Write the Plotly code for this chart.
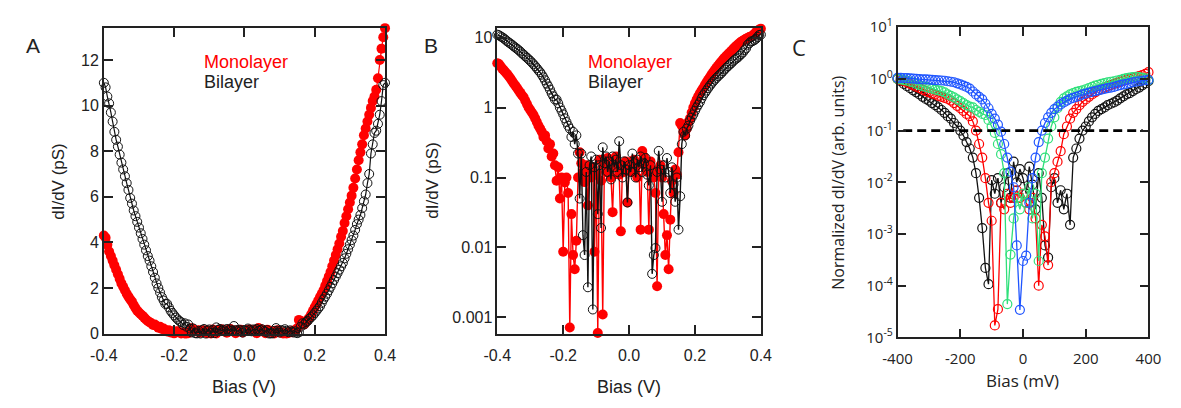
import plotly.graph_objects as go

# ---------------- data ----------------
# Panels A and B: bias in mV (converted to V), dI/dV in pS
bias_ab_mv = [-400, -395, -390, -385, -380, -375, -370, -365, -360, -355,
              -350, -345, -340, -335, -330, -325, -320, -315, -310, -305,
              -300, -295, -290, -285, -280, -275, -270, -265, -260, -255,
              -250, -245, -240, -235, -230, -225, -220, -215, -210, -205,
              -200, -195, -190, -185, -180, -175, -170, -165, -160, -155,
              -150, -145, -140, -135, -130, -125, -120, -115, -110, -105,
              -100, -95, -90, -85, -80, -75, -70, -65, -60, -55,
              -50, -45, -40, -35, -30, -25, -20, -15, -10, -5,
              0, 5, 10, 15, 20, 25, 30, 35, 40, 45,
              50, 55, 60, 65, 70, 75, 80, 85, 90, 95,
              100, 105, 110, 115, 120, 125, 130, 135, 140, 145,
              150, 155, 160, 165, 170, 175, 180, 185, 190, 195,
              200, 205, 210, 215, 220, 225, 230, 235, 240, 245,
              250, 255, 260, 265, 270, 275, 280, 285, 290, 295,
              300, 305, 310, 315, 320, 325, 330, 335, 340, 345,
              350, 355, 360, 365, 370, 375, 380, 385, 390, 395,
              400]

monolayer = [4.3, 4.2, 3.9, 3.6, 3.4, 3.2, 3.0, 2.8, 2.6, 2.4,
             2.2, 2.05, 1.9, 1.75, 1.62, 1.5, 1.4, 1.25, 1.12, 1.0,
             0.92, 0.85, 0.78, 0.7, 0.62, 0.55, 0.5, 0.45, 0.38, 0.4,
             0.33, 0.26, 0.3, 0.2, 0.22, 0.15, 0.09, 0.14, 0.05, 0.1,
             0.0087, 0.085, 0.1, 0.06, 0.00072, 0.03, 0.0078, 0.0049, 0.0125, 0.1,
             0.23, 0.16, 0.12, 0.086, 0.15, 0.04, 0.13, 0.1, 0.14, 0.0087,
             0.11, 0.0006, 0.18, 0.09, 0.0011, 0.15, 0.12, 0.19, 0.13, 0.1,
             0.032, 0.17, 0.2, 0.14, 0.11, 0.017, 0.15, 0.12, 0.17, 0.044,
             0.13, 0.16, 0.12, 0.18, 0.14, 0.1, 0.16, 0.018, 0.24, 0.2,
             0.15, 0.12, 0.018, 0.17, 0.13, 0.1, 0.06, 0.0028, 0.12, 0.15,
             0.1, 0.03, 0.0078, 0.015, 0.0049, 0.025, 0.09, 0.06, 0.13, 0.11,
             0.23, 0.6, 0.55, 0.45, 0.4, 0.5, 0.62, 0.7, 0.85, 1.0,
             1.15, 1.3, 1.45, 1.6, 1.75, 1.9, 2.1, 2.3, 2.5, 2.7,
             2.95, 3.2, 3.45, 3.7, 3.95, 4.25, 4.5, 4.85, 5.15, 5.45,
             5.75, 6.05, 6.4, 6.8, 7.2, 7.6, 7.95, 8.3, 8.7, 9.0,
             9.3, 9.6, 9.9, 10.2, 10.4, 10.7, 11.2, 12.0, 12.5, 13.0,
             13.4]

bilayer = [11.0, 10.8, 10.4, 10.1, 9.7, 9.3, 8.85, 8.5, 8.2, 7.85,
           7.5, 7.2, 6.9, 6.6, 6.3, 5.95, 5.7, 5.4, 5.15, 4.9,
           4.65, 4.4, 4.15, 3.9, 3.65, 3.4, 3.2, 2.95, 2.7, 2.45,
           2.2, 2.0, 1.8, 1.6, 1.45, 1.3, 1.3, 1.15, 1.0, 0.9,
           0.8, 0.7, 0.62, 0.55, 0.5, 0.38, 0.45, 0.3, 0.4, 0.22,
           0.05, 0.22, 0.015, 0.0078, 0.12, 0.0027, 0.15, 0.2, 0.0013, 0.14,
           0.18, 0.03, 0.15, 0.019, 0.27, 0.16, 0.2, 0.12, 0.17, 0.094,
           0.2, 0.14, 0.18, 0.12, 0.33, 0.15, 0.1, 0.17, 0.13, 0.044,
           0.15, 0.12, 0.22, 0.16, 0.1, 0.18, 0.14, 0.2, 0.12, 0.16,
           0.19, 0.11, 0.077, 0.15, 0.0042, 0.0078, 0.0098, 0.12, 0.24, 0.13,
           0.045, 0.15, 0.1, 0.19, 0.12, 0.06, 0.14, 0.08, 0.045, 0.1,
           0.018, 0.054, 0.3, 0.45, 0.4, 0.5, 0.55, 0.65, 0.72, 0.8,
           0.9, 1.0, 1.1, 1.2, 1.35, 1.5, 1.62, 1.75, 1.9, 2.05,
           2.2, 2.35, 2.5, 2.65, 2.8, 2.95, 3.1, 3.3, 3.5, 3.7,
           3.9, 4.1, 4.3, 4.55, 4.8, 5.0, 5.2, 5.5, 5.8, 6.1,
           6.6, 7.0, 7.9, 8.3, 8.8, 8.9, 9.2, 9.6, 10.2, 10.9,
           11.0]

# Panel C: bias in mV, normalized dI/dV
bias_c_mv = [-400, -390, -380, -370, -360, -350, -340, -330, -320, -310,
             -300, -290, -280, -270, -260, -250, -240, -230, -220, -210,
             -200, -190, -180, -170, -160, -150, -140, -130, -120, -110,
             -100, -90, -80, -70, -60, -50, -40, -30, -20, -10,
             0, 10, 20, 30, 40, 50, 60, 70, 80, 90,
             100, 110, 120, 130, 140, 150, 160, 170, 180, 190,
             200, 210, 220, 230, 240, 250, 260, 270, 280, 290,
             300, 310, 320, 330, 340, 350, 360, 370, 380, 390,
             400]

c_black = [1.0, 0.9, 0.8, 0.72, 0.66, 0.6, 0.55, 0.5, 0.45, 0.41,
           0.38, 0.34, 0.31, 0.28, 0.25, 0.22, 0.19, 0.17, 0.14, 0.12,
           0.1, 0.08, 0.06, 0.045, 0.03, 0.015, 0.005, 0.0013, 0.00022, 0.000107,
           0.011, 0.006, 0.012, 0.004, 0.008, 0.015, 0.005, 0.025, 0.01, 0.018,
           0.012, 0.006, 0.02, 0.009, 0.003, 0.015, 0.005, 0.0006, 0.00035, 0.008,
           0.012, 0.004, 0.007, 0.003, 0.006, 0.0015, 0.03, 0.045, 0.07, 0.1,
           0.12, 0.15, 0.18, 0.21, 0.24, 0.26, 0.28, 0.31, 0.33, 0.35,
           0.38, 0.42, 0.46, 0.5, 0.53, 0.58, 0.63, 0.68, 0.75, 0.82,
           0.9]

c_red = [1.0, 0.95, 0.9, 0.85, 0.8, 0.75, 0.7, 0.66, 0.62, 0.58,
         0.55, 0.52, 0.5, 0.47, 0.45, 0.43, 0.41, 0.38, 0.34, 0.3,
         0.27, 0.24, 0.21, 0.19, 0.15, 0.1, 0.055, 0.03, 0.012, 0.004,
         0.0018, 0.000017, 0.000035, 0.004, 0.003, 0.006, 0.004, 0.005, 0.007, 0.005,
         0.006, 0.004, 0.003, 0.005, 0.002, 0.0001, 0.0015, 0.0009, 0.00025, 0.01,
         0.015, 0.025, 0.04, 0.085, 0.12, 0.17, 0.22, 0.26, 0.31, 0.36,
         0.4, 0.45, 0.5, 0.55, 0.6, 0.64, 0.68, 0.72, 0.76, 0.8,
         0.84, 0.88, 0.92, 0.96, 1.0, 1.04, 1.08, 1.13, 1.18, 1.25,
         1.35]

c_green = [1.0, 0.98, 0.95, 0.92, 0.88, 0.85, 0.8, 0.76, 0.72, 0.7,
           0.67, 0.65, 0.62, 0.6, 0.58, 0.55, 0.5, 0.47, 0.44, 0.4,
           0.37, 0.34, 0.31, 0.29, 0.28, 0.25, 0.23, 0.21, 0.2, 0.16,
           0.12, 0.09, 0.055, 0.035, 0.015, 0.000044, 0.0004, 0.002, 0.005, 0.003,
           0.006, 0.004, 0.008, 0.002, 0.006, 0.0003, 0.015, 0.03, 0.07, 0.12,
           0.18, 0.27, 0.36, 0.42, 0.46, 0.5, 0.53, 0.56, 0.58, 0.6,
           0.63, 0.66, 0.7, 0.74, 0.77, 0.8, 0.83, 0.86, 0.88, 0.9,
           0.93, 0.96, 1.0, 1.03, 1.06, 1.08, 1.1, 1.08, 1.05, 1.02,
           0.95]

c_blue = [1.05, 1.05, 1.04, 1.03, 1.02, 1.01, 1.0, 0.99, 0.98, 0.98,
          0.97, 0.96, 0.95, 0.94, 0.93, 0.92, 0.9, 0.88, 0.86, 0.82,
          0.78, 0.74, 0.7, 0.65, 0.57, 0.5, 0.45, 0.4, 0.33, 0.27,
          0.21, 0.17, 0.13, 0.095, 0.055, 0.03, 0.016, 0.008, 0.0006, 0.000034,
          0.0003, 0.00038, 0.004, 0.012, 0.03, 0.06, 0.1, 0.14, 0.18, 0.22,
          0.26, 0.29, 0.32, 0.35, 0.38, 0.41, 0.43, 0.45, 0.47, 0.5,
          0.52, 0.54, 0.56, 0.58, 0.6, 0.62, 0.64, 0.66, 0.68, 0.7,
          0.73, 0.76, 0.78, 0.8, 0.83, 0.86, 0.88, 0.9, 0.92, 0.94,
          0.96]

threshold_c = 0.1
threshold_span_mv = [-382, 382]

a_xticks = [-0.4, -0.2, 0.0, 0.2, 0.4]
a_xticktext = ["-0.4", "-0.2", "0.0", "0.2", "0.4"]
a_yticks = [0, 2, 4, 6, 8, 10, 12]
b_yticks = [0.001, 0.01, 0.1, 1, 10]
b_yticktext = ["0.001", "0.01", "0.1", "1", "10"]
c_xticks = [-400, -200, 0, 200, 400]
c_xticktext = ["-400", "-200", "0", "200", "400"]
c_yticks = [1e-5, 1e-4, 1e-3, 1e-2, 1e-1, 1, 10]
c_yticktext = ["10<sup>-5</sup>", "10<sup>-4</sup>", "10<sup>-3</sup>", "10<sup>-2</sup>",
               "10<sup>-1</sup>", "10<sup>0</sup>", "10<sup>1</sup>"]

bias_ab = [v / 1000 for v in bias_ab_mv]

# ---------------- styling ----------------
W, H = 1181, 408
RED = "#ff0000"
BLACK = "#111111"
GREEN = "#2fe07a"
BLUE = "#1f55ff"
AXC = "#222222"
SANS = "Liberation Sans, Arial, sans-serif"
OPEN = "Open Sans, Noto Sans, sans-serif"


def fx(p):
    return p / W


def fy(p):
    return 1 - p / H


fig = go.Figure()

# Panel A
fig.add_trace(go.Scatter(x=bias_ab, y=monolayer, xaxis="x", yaxis="y", mode="lines+markers",
                         line=dict(color=RED, width=1.2), marker=dict(color=RED, size=10),
                         cliponaxis=False, showlegend=False))
fig.add_trace(go.Scatter(x=bias_ab, y=bilayer, xaxis="x", yaxis="y", mode="lines+markers",
                         line=dict(color=BLACK, width=1.2),
                         marker=dict(symbol="circle-open", color=BLACK, size=9, line=dict(width=1)),
                         cliponaxis=False, showlegend=False))
# Panel B
fig.add_trace(go.Scatter(x=bias_ab, y=monolayer, xaxis="x2", yaxis="y2", mode="lines+markers",
                         line=dict(color=RED, width=1.4), marker=dict(color=RED, size=10),
                         cliponaxis=False, showlegend=False))
fig.add_trace(go.Scatter(x=bias_ab, y=bilayer, xaxis="x2", yaxis="y2", mode="lines+markers",
                         line=dict(color=BLACK, width=1.4),
                         marker=dict(symbol="circle-open", color=BLACK, size=9, line=dict(width=1)),
                         cliponaxis=False, showlegend=False))
# Panel C
for ys, col in [(c_black, BLACK), (c_red, RED), (c_green, GREEN), (c_blue, BLUE)]:
    fig.add_trace(go.Scatter(x=bias_c_mv, y=ys, xaxis="x3", yaxis="y3", mode="lines+markers",
                             line=dict(color=col, width=1.3),
                             marker=dict(symbol="circle-open", color=col, size=9, line=dict(width=1.2)),
                             cliponaxis=False, showlegend=False))
fig.add_trace(go.Scatter(x=threshold_span_mv, y=[threshold_c, threshold_c], xaxis="x3", yaxis="y3",
                         mode="lines", line=dict(color="black", width=2.8, dash="9px,5px"),
                         showlegend=False))

common = dict(showline=True, linecolor=AXC, linewidth=1.5, mirror="ticks", ticks="inside",
              ticklen=9, tickwidth=1.5, tickcolor=AXC, showgrid=False, zeroline=False)
font_ab = dict(family=SANS, size=16, color=AXC)
font_c = dict(family=OPEN, size=15, color=AXC)

fig.update_layout(
    width=W, height=H, margin=dict(l=0, r=0, t=0, b=0),
    paper_bgcolor="white", plot_bgcolor="white",
    xaxis=dict(domain=[fx(91), fx(379)], range=[-0.4, 0.4], anchor="y", ticklabelstandoff=6,
               tickvals=a_xticks, ticktext=a_xticktext, tickfont=font_ab, **common),
    yaxis=dict(domain=[fy(339), fy(17)], range=[0, 13.4], anchor="x",
               tickvals=a_yticks, tickfont=font_ab, **common),
    xaxis2=dict(domain=[fx(494), fx(764)], range=[-0.4, 0.4], anchor="y2", ticklabelstandoff=6,
                tickvals=a_xticks, ticktext=a_xticktext, tickfont=font_ab, **common),
    yaxis2=dict(domain=[fy(339), fy(17)], type="log", range=[-3.23, 1.135], anchor="x2",
                tickvals=b_yticks, ticktext=b_yticktext, tickfont=font_ab, **common),
    xaxis3=dict(domain=[fx(904), fx(1161)], range=[-400, 400], anchor="y3", ticklabelstandoff=7,
                tickvals=c_xticks, ticktext=c_xticktext, tickfont=font_c, **common),
    yaxis3=dict(domain=[fy(343), fy(16)], type="log", range=[-5, 1], anchor="x3",
                tickvals=c_yticks, ticktext=c_yticktext, tickfont=font_c, **common),
)


def ann(text, x, y, size, family=SANS, color=AXC, xanchor="center", angle=0):
    fig.add_annotation(text=text, x=fx(x), y=fy(y), xref="paper", yref="paper",
                       xanchor=xanchor, yanchor="middle", showarrow=False, textangle=angle,
                       font=dict(family=family, size=size, color=color))


ann("A", 18, 35, 21)
ann("B", 426, 35, 21)
ann("C", 803, 37, 22, family=OPEN)
ann("Monolayer", 192, 53, 18, color=RED, xanchor="left")
ann("Bilayer", 192, 74, 18, color=AXC, xanchor="left")
ann("Monolayer", 585, 53, 18, color=RED, xanchor="left")
ann("Bilayer", 585, 74, 18, color=AXC, xanchor="left")
ann("Bias (V)", 235, 395, 18)
ann("Bias (V)", 629, 395, 18)
ann("Bias (mV)", 1032, 388, 17, family=OPEN)
ann("dI/dV (pS)", 45, 178, 17, angle=-90)
ann("dI/dV (pS)", 428, 177, 17, angle=-90)
ann("Normalized dI/dV (arb. units)", 843, 180, 16, family=OPEN, angle=-90)

fig.write_html("out.html", config={"displayModeBar": False},
               post_script="document.body.style.margin='0';")
